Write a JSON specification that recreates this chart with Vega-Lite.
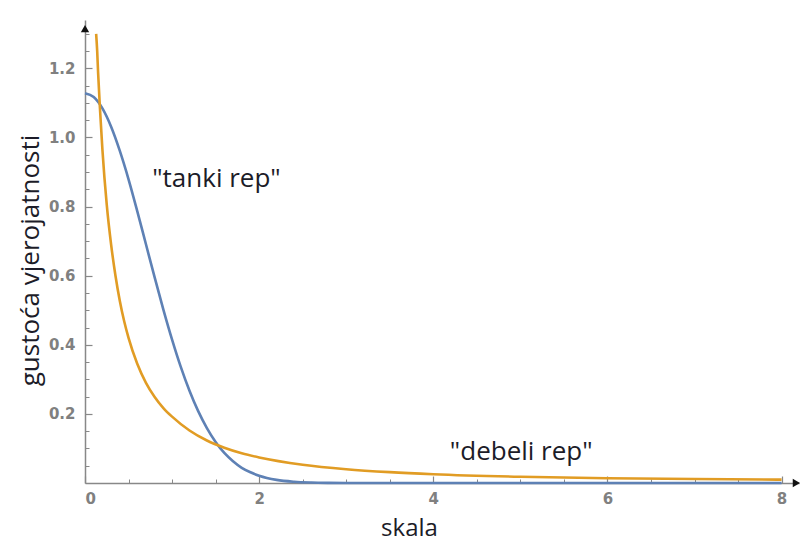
{
  "$schema": "https://vega.github.io/schema/vega-lite/v6.json",
  "width": 714,
  "height": 463,
  "autosize": {"type": "none"},
  "padding": {"left": 85, "top": 20, "right": 3, "bottom": 59},
  "background": "white",
  "config": {"view": {"stroke": null}},
  "datasets": {
    "thin": [
      {"x": 0, "y": 1.128}, {"x": 0.1, "y": 1.117}, {"x": 0.2, "y": 1.084}, {"x": 0.3, "y": 1.031},
      {"x": 0.4, "y": 0.961}, {"x": 0.5, "y": 0.879}, {"x": 0.6, "y": 0.787}, {"x": 0.7, "y": 0.691},
      {"x": 0.8, "y": 0.595}, {"x": 0.9, "y": 0.502}, {"x": 1.0, "y": 0.415}, {"x": 1.1, "y": 0.336},
      {"x": 1.2, "y": 0.267}, {"x": 1.3, "y": 0.208}, {"x": 1.4, "y": 0.159}, {"x": 1.5, "y": 0.119},
      {"x": 1.6, "y": 0.087}, {"x": 1.7, "y": 0.063}, {"x": 1.8, "y": 0.044}, {"x": 1.9, "y": 0.031},
      {"x": 2.0, "y": 0.021}, {"x": 2.2, "y": 0.009}, {"x": 2.4, "y": 0.0036}, {"x": 2.6, "y": 0.0013},
      {"x": 2.8, "y": 0.0004}, {"x": 3.0, "y": 0.0001}, {"x": 4.0, "y": 0}, {"x": 6.0, "y": 0}, {"x": 8.0, "y": 0}
    ],
    "fat": [
      {"x": 0.128, "y": 1.30}, {"x": 0.14, "y": 1.25}, {"x": 0.15, "y": 1.19}, {"x": 0.175, "y": 1.07},
      {"x": 0.2, "y": 0.965}, {"x": 0.25, "y": 0.805}, {"x": 0.3, "y": 0.69}, {"x": 0.35, "y": 0.60},
      {"x": 0.4, "y": 0.527}, {"x": 0.45, "y": 0.468}, {"x": 0.5, "y": 0.42}, {"x": 0.6, "y": 0.345},
      {"x": 0.7, "y": 0.29}, {"x": 0.8, "y": 0.249}, {"x": 0.9, "y": 0.217}, {"x": 1.0, "y": 0.192},
      {"x": 1.2, "y": 0.152}, {"x": 1.4, "y": 0.123}, {"x": 1.6, "y": 0.102}, {"x": 1.8, "y": 0.086},
      {"x": 2.0, "y": 0.074}, {"x": 2.5, "y": 0.053}, {"x": 3.0, "y": 0.040}, {"x": 3.5, "y": 0.0315},
      {"x": 4.0, "y": 0.0255}, {"x": 5.0, "y": 0.018}, {"x": 6.0, "y": 0.0138}, {"x": 7.0, "y": 0.0115},
      {"x": 8.0, "y": 0.0098}
    ],
    "notes": [
      {"x": 1.51, "y": 0.857, "label": "\"tanki rep\""},
      {"x": 5.01, "y": 0.067, "label": "\"debeli rep\""}
    ],
    "yarrow": [{"x": 0, "y": 1.315}],
    "xarrow": [{"x": 8.17, "y": 0}]
  },
  "layer": [
    {
      "data": {"name": "thin"},
      "mark": {"type": "line", "color": "#5E81B5", "strokeWidth": 2.6, "interpolate": "monotone"},
      "encoding": {
        "x": {"field": "x", "type": "quantitative", "scale": {"domain": [0, 8.2], "nice": false},
          "axis": {"orient": "bottom", "values": [0.5, 1, 1.5, 2.5, 3, 3.5, 4.5, 5, 5.5, 6.5, 7, 7.5],
            "labels": false, "domain": false, "grid": false, "title": null,
            "tickSize": -4, "tickColor": "#888888", "tickWidth": 1}},
        "y": {"field": "y", "type": "quantitative", "scale": {"domain": [0, 1.34], "nice": false},
          "axis": {"orient": "left", "values": [0.05, 0.1, 0.15, 0.25, 0.3, 0.35, 0.45, 0.5, 0.55, 0.65, 0.7, 0.75, 0.85, 0.9, 0.95, 1.05, 1.1, 1.15, 1.25, 1.3],
            "labels": false, "domain": false, "grid": false, "title": null,
            "tickSize": -4, "tickColor": "#888888", "tickWidth": 1}}
      }
    },
    {
      "data": {"name": "fat"},
      "mark": {"type": "line", "color": "#E19C24", "strokeWidth": 2.6, "interpolate": "monotone"},
      "encoding": {
        "x": {"field": "x", "type": "quantitative",
          "axis": {"orient": "bottom", "values": [0, 2, 4, 6, 8], "grid": false,
            "domainColor": "#888888", "domainWidth": 1.5,
            "tickSize": -7, "tickColor": "#888888", "tickWidth": 1.2,
            "labelPadding": 15, "labelFont": "DejaVu Sans", "labelFontSize": 15, "labelFontWeight": "bold", "labelColor": "#808080",
            "title": "skala", "titleFont": "Open Sans", "titleFontSize": 24, "titleFontWeight": "normal", "titleColor": "#1c1c28",
            "titleX": 324, "titleY": 52, "titleBaseline": "alphabetic", "titleAlign": "center"}},
        "y": {"field": "y", "type": "quantitative",
          "axis": {"orient": "left", "values": [0.2, 0.4, 0.6, 0.8, 1.0, 1.2], "format": ".1f", "grid": false,
            "domainColor": "#888888", "domainWidth": 1.5,
            "tickSize": -7, "tickColor": "#888888", "tickWidth": 1.2,
            "labelPadding": 17, "labelFont": "DejaVu Sans", "labelFontSize": 15, "labelFontWeight": "bold", "labelColor": "#808080",
            "title": "gustoća vjerojatnosti", "titleFont": "Open Sans", "titleFontSize": 26, "titleFontWeight": "normal", "titleColor": "#1c1c28",
            "titleX": -55, "titleY": 240, "titleBaseline": "middle", "titleAlign": "center", "titleAngle": -90}}
      }
    },
    {
      "data": {"name": "notes"},
      "mark": {"type": "text", "font": "Open Sans", "fontSize": 26, "color": "#1c1c28", "align": "center", "baseline": "alphabetic"},
      "encoding": {
        "x": {"field": "x", "type": "quantitative", "axis": null},
        "y": {"field": "y", "type": "quantitative", "axis": null},
        "text": {"field": "label"}
      }
    },
    {
      "data": {"name": "yarrow"},
      "mark": {"type": "point", "shape": "triangle-up", "filled": true, "color": "#111111", "size": 70, "opacity": 1},
      "encoding": {
        "x": {"field": "x", "type": "quantitative", "axis": null},
        "y": {"field": "y", "type": "quantitative", "axis": null}
      }
    },
    {
      "data": {"name": "xarrow"},
      "mark": {"type": "point", "shape": "triangle-right", "filled": true, "color": "#111111", "size": 70, "opacity": 1},
      "encoding": {
        "x": {"field": "x", "type": "quantitative", "axis": null},
        "y": {"field": "y", "type": "quantitative", "axis": null}
      }
    }
  ],
  "resolve": {"axis": {"x": "independent", "y": "independent"}}
}
